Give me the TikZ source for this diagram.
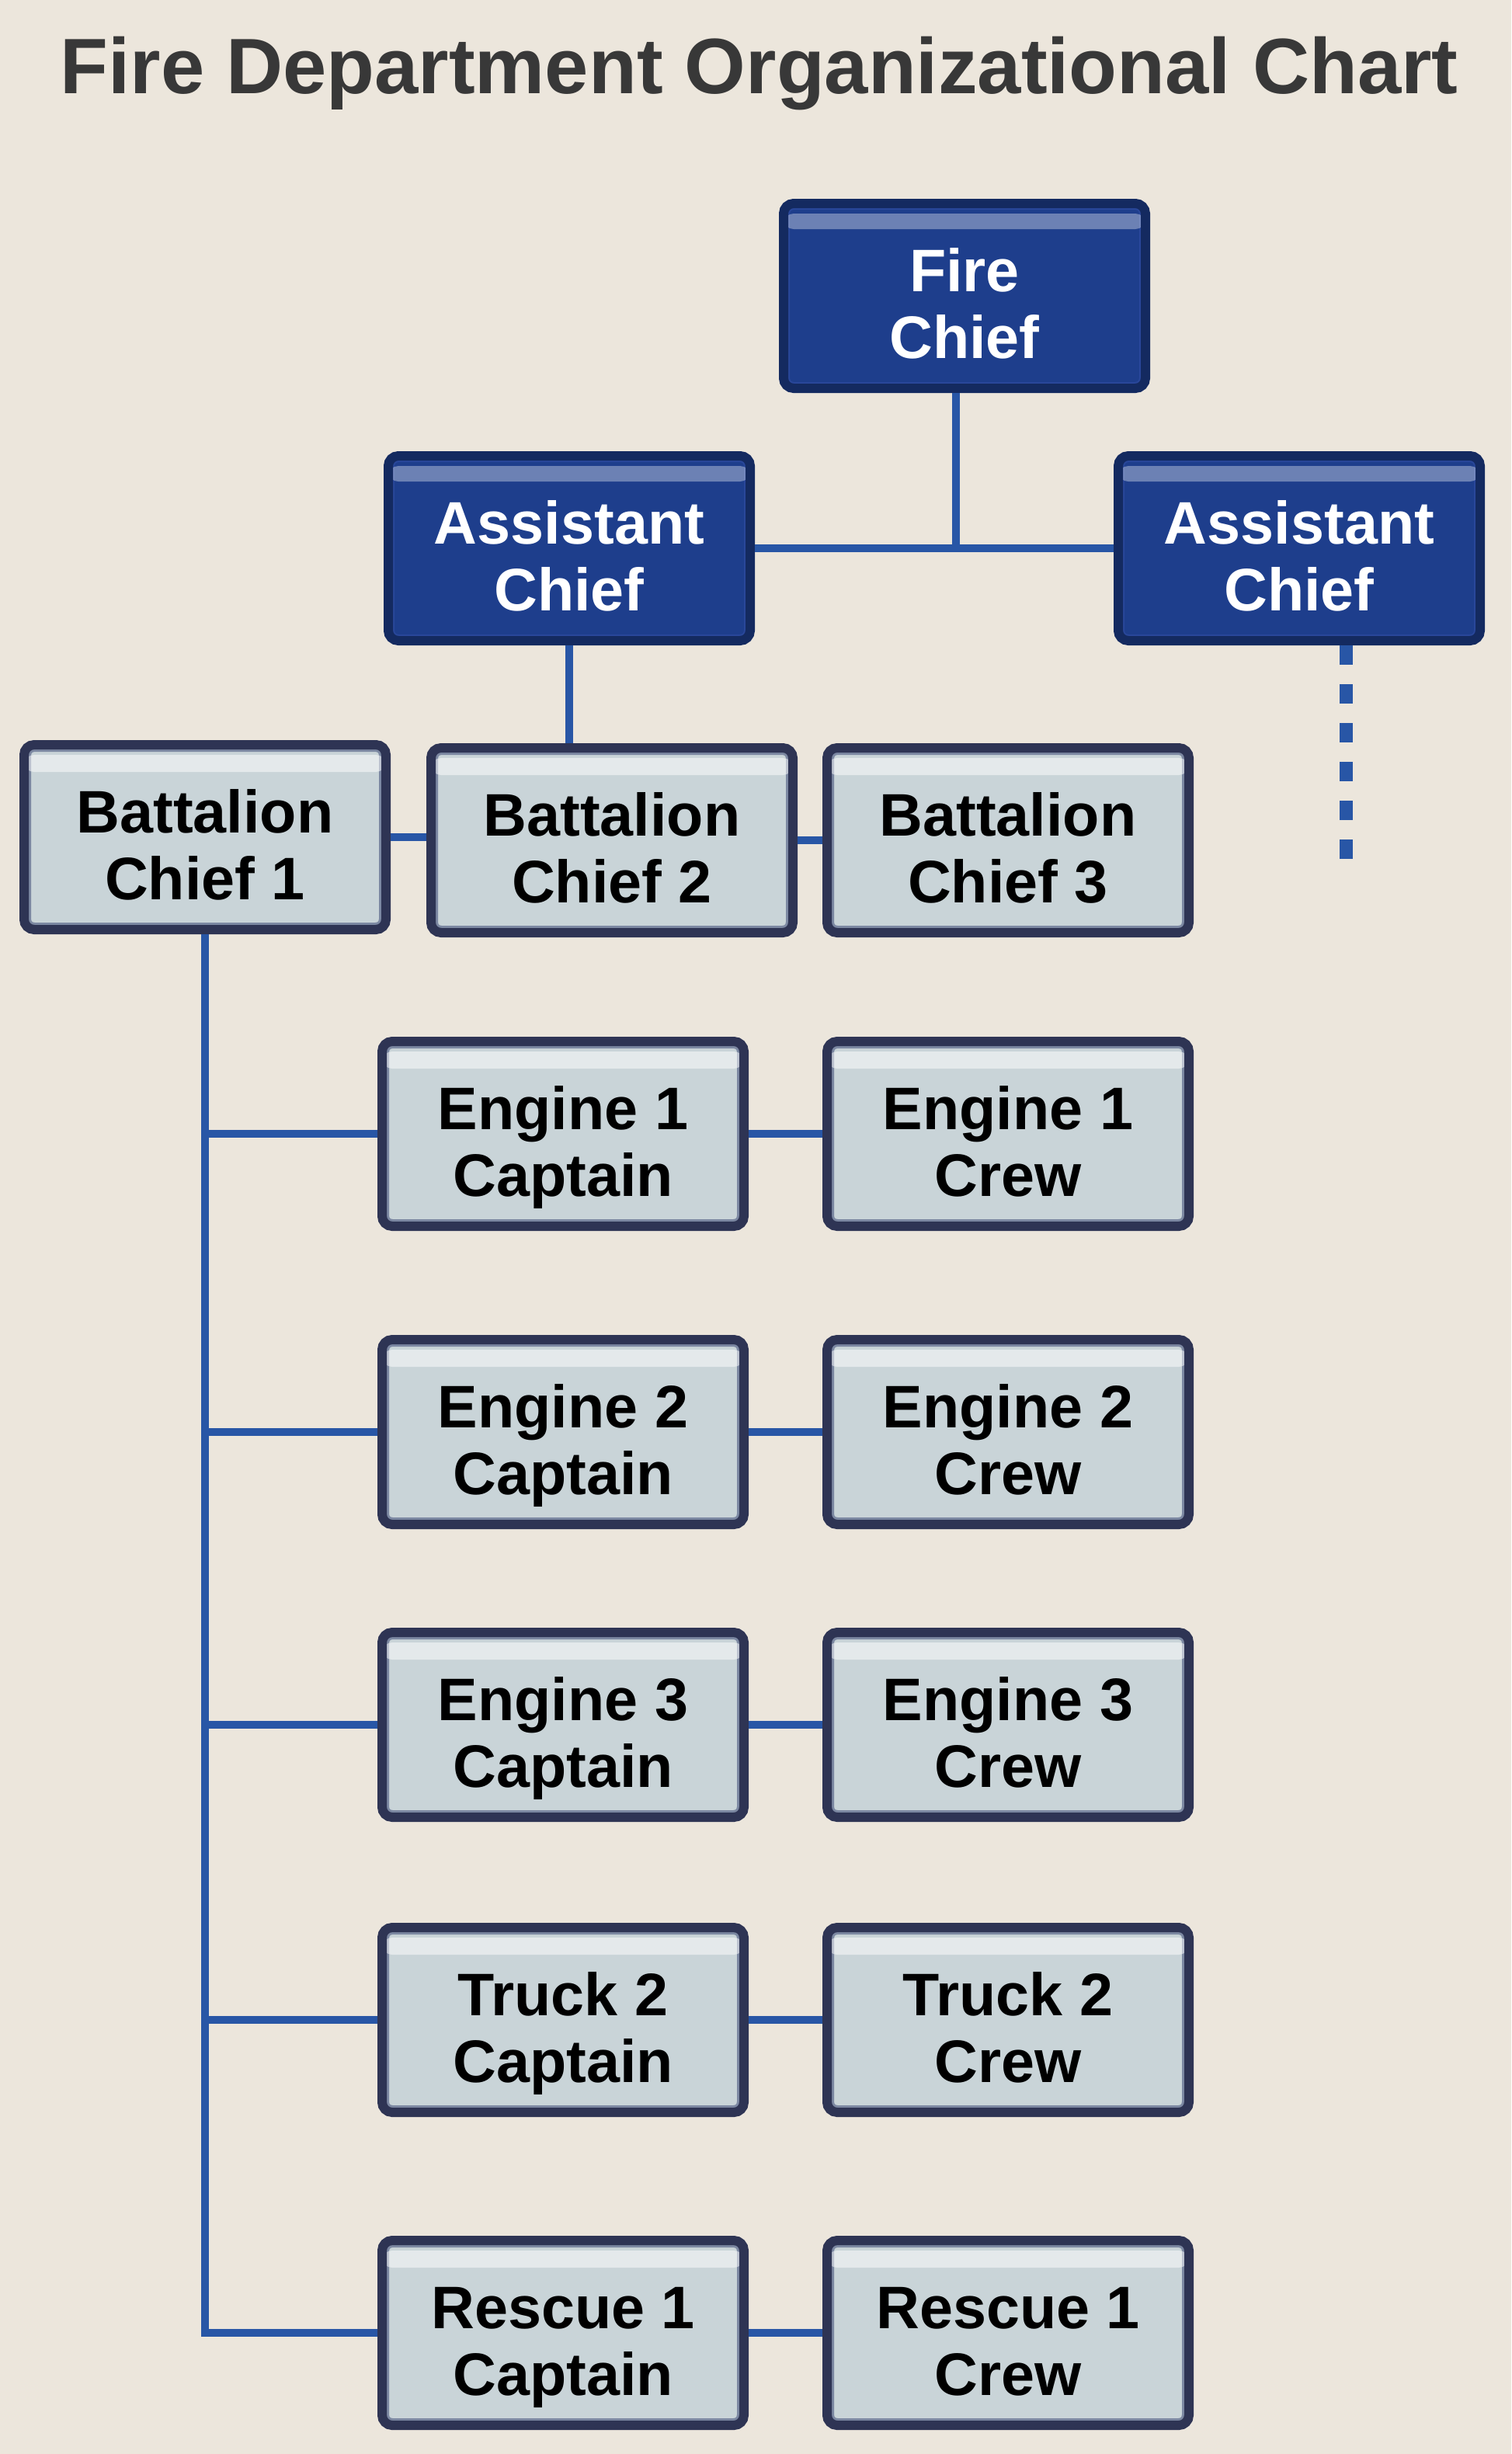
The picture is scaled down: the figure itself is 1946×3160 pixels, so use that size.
\documentclass[tikz,border=0pt]{standalone}
\usepackage{fontspec}
\setmainfont{Liberation Sans}
\definecolor{paper}{HTML}{ECE6DC}
\definecolor{linkblue}{HTML}{2856A6}
\definecolor{navy}{HTML}{1E3E8C}
\definecolor{navyedge}{HTML}{142A60}
\definecolor{navymid}{HTML}{29479A}
\definecolor{steel}{HTML}{C9D4D8}
\definecolor{steeledge}{HTML}{2E3454}
\definecolor{steelmid}{HTML}{7C88A2}
\definecolor{titlegray}{HTML}{383838}
\newcommand\hiline{\rule{0pt}{26pt}}
\newcommand\loline{\rule[-4.6pt]{0pt}{0pt}}
\begin{document}
\begin{tikzpicture}[x=0.1mm,y=-0.1mm,
    link/.style={draw=linkblue,line width=1mm},
    box/.style={rectangle,rounded corners=1.3mm,minimum width=46.6mm,minimum height=23.8mm,
        line width=1.2mm,align=center,inner sep=0pt,font=\bfseries\fontsize{22}{24.5}\selectfont},
    chiefbox/.style={box,fill=navy,draw=navyedge,text=white,
        path picture={
            \draw[navymid,line width=1.6mm] (path picture bounding box.south west) rectangle (path picture bounding box.north east);
            \fill[white,opacity=.35] ([yshift=-1.3mm]path picture bounding box.north west) rectangle ([yshift=-3.3mm]path picture bounding box.north east);}},
    crewbox/.style={box,fill=steel,draw=steeledge,text=black,
        path picture={
            \draw[steelmid,line width=1.8mm] (path picture bounding box.south west) rectangle (path picture bounding box.north east);
            \fill[white,opacity=.5] ([yshift=-1.3mm]path picture bounding box.north west) rectangle ([yshift=-3.5mm]path picture bounding box.north east);}}]
    \fill[paper] (0,0) rectangle (1946,3160);
    \useasboundingbox (0,0) rectangle (1946,3160);
    \node[anchor=base west,inner sep=0pt,text=titlegray,font=\bfseries\fontsize{28.8}{30}\selectfont] (title) at (77,120) {Fire Department Organizational Chart};
    \node[chiefbox] (fire) at (1242,381) {\hiline Fire\\Chief\loline};
    \node[chiefbox] (asstA) at (733,706) {\hiline Assistant\\Chief\loline};
    \node[chiefbox] (asstB) at (1673,706) {\hiline Assistant\\Chief\loline};
    \node[crewbox] (bat1) at (264,1078) {\hiline Battalion\\Chief 1\loline};
    \node[crewbox] (bat2) at (788,1082) {\hiline Battalion\\Chief 2\loline};
    \node[crewbox] (bat3) at (1298,1082) {\hiline Battalion\\Chief 3\loline};
    \draw[link] ([xshift=-1.1mm]fire.south) -- ([xshift=-1.1mm]fire.south |- asstA.east);
    \draw[link] (asstA.east) -- (asstB.west);
    \draw[link] (asstA.south) -- (asstA.south |- bat2.north);
    \draw[link] (bat1.east) -- (bat1.east -| bat2.west);
    \draw[link] (bat2.east) -- (bat3.west);
    \draw[link,line width=1.7mm,dash pattern=on 2.5mm off 2.5mm] ([xshift=6mm]asstB.south) -- ++(0,275);
    \foreach \n/\lbl/\y in {1/Engine 1/1460,2/Engine 2/1844,3/Engine 3/2221,4/Truck 2/2601,5/Rescue 1/3004} {
        \node[crewbox] (capt\n) at (725,\y) {\hiline\lbl\\Captain\loline};
        \node[crewbox] (crew\n) at (1298,\y) {\hiline\lbl\\Crew\loline};
        \draw[link] (capt\n) -- (crew\n);
        \draw[link] (bat1.south |- capt\n.west) -- (capt\n.west);
    }
    \draw[link] (bat1.south) |- (capt5.west);
\end{tikzpicture}
\end{document}
